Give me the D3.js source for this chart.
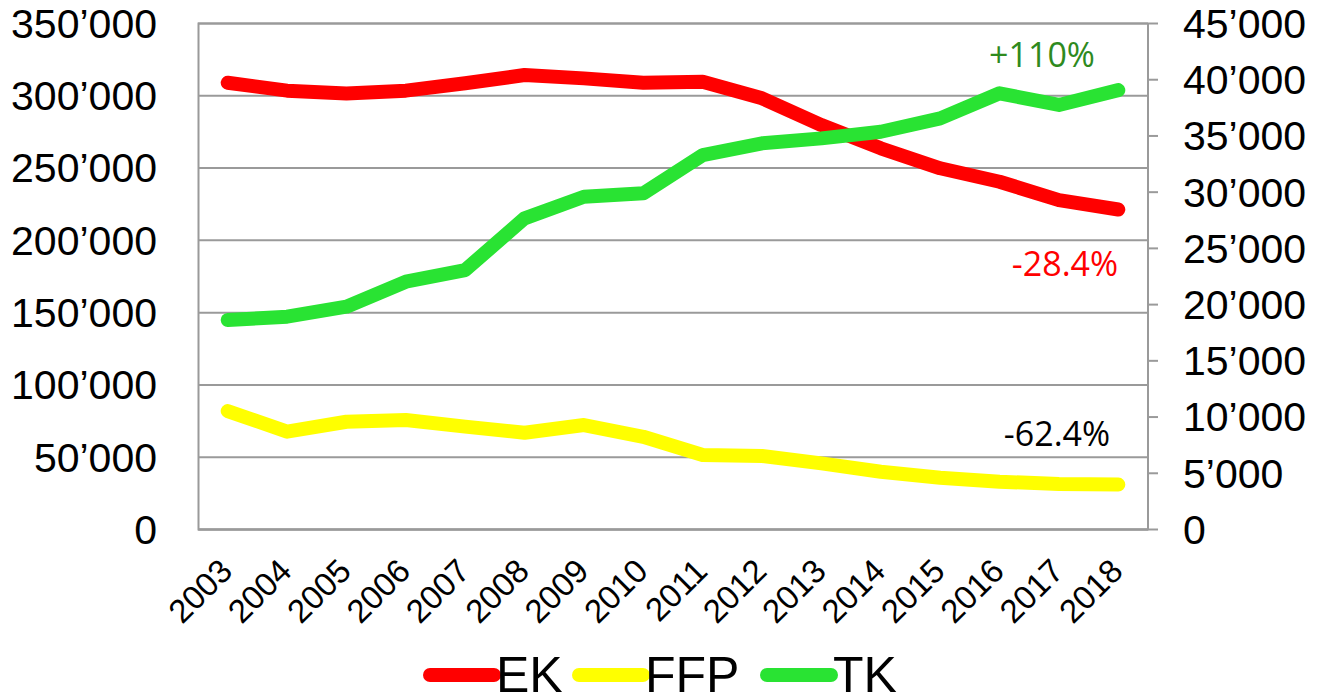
<!DOCTYPE html>
<html>
<head>
<meta charset="utf-8">
<script src="https://cdn.jsdelivr.net/npm/d3@7"></script>
<style>
  body { margin: 0; background: #fff; }
  svg { display: block; }
  .tick text { font-family: "Liberation Sans", Arial, sans-serif; fill: #000; }
</style>
</head>
<body>
<svg id="chart" width="1323" height="694"></svg>
<script>
// data
var years = ["2003","2004","2005","2006","2007","2008","2009","2010","2011","2012","2013","2014","2015","2016","2017","2018"];
var ek  = [308700,303200,301300,303200,308300,314000,311700,308700,309400,297900,279400,263300,249500,240200,227500,221000];
var ffp = [81600,67300,74200,75400,70800,66600,71900,63800,51200,50500,45400,39600,35500,32700,31100,30700];
var tk  = [18590,18880,19770,21990,23030,27630,29550,29850,33260,34300,34740,35330,36520,38750,37710,39030];
var leftTicks  = [0,50000,100000,150000,200000,250000,300000,350000];
var rightTicks = [0,5000,10000,15000,20000,25000,30000,35000,40000,45000];
var seriesNames = ["EK","FFP","TK"];
var seriesColors = ["#ff0000","#ffff00","#29e333"];
var notes = ["-28.4%","-62.4%","+110%"];
var noteColors = ["#ff0000","#000000","#2e8a1e"];

var svg = d3.select("#chart");
var pLeft = 198, pRight = 1148, pTop = 23, pBottom = 529;

var locale = d3.formatLocale({decimal: ".", thousands: "\u2019", grouping: [3], currency: ["", ""]});
var fmt = locale.format(",");

var x = d3.scalePoint().domain(years).range([pLeft, pRight]).padding(0.5);
var yL = d3.scaleLinear().domain([0, 350000]).range([pBottom, pTop]);
var yR = d3.scaleLinear().domain([0, 45000]).range([pBottom, pTop]);

// ==== gridlines + left axis ====
var gL = svg.append("g")
	.attr("transform", "translate(" + pLeft + ",0)")
	.call(d3.axisLeft(yL).tickValues(leftTicks).tickFormat(fmt).tickSize(-(pRight - pLeft)).tickPadding(41));
gL.select(".domain").attr("stroke", "#9a9a9a").attr("stroke-width", 2);
gL.selectAll(".tick line").attr("stroke", "#9a9a9a").attr("stroke-width", 2);
gL.selectAll(".tick text").style("font-size", "41px").attr("dy", "0.35em");

// ==== right axis ====
var gR = svg.append("g")
	.attr("transform", "translate(" + pRight + ",0)")
	.call(d3.axisRight(yR).tickValues(rightTicks).tickFormat(fmt).tickSize(10).tickPadding(25));
gR.select(".domain").attr("stroke", "#9a9a9a").attr("stroke-width", 2).attr("d", "M0," + pTop + "V" + pBottom);
gR.selectAll(".tick line").attr("stroke", "#9a9a9a").attr("stroke-width", 2);
gR.selectAll(".tick text").style("font-size", "41px").attr("dy", "0.35em");

// ==== x axis ====
var gX = svg.append("g")
	.attr("transform", "translate(0," + pBottom + ")")
	.call(d3.axisBottom(x).tickSize(0).tickPadding(0));
gX.select(".domain").attr("stroke", "#9a9a9a").attr("stroke-width", 2);
gX.selectAll(".tick text")
	.style("font-size", "33px")
	.attr("text-anchor", "end")
	.attr("dy", 0)
	.attr("transform", "translate(6,44) rotate(-45)");

// ==== lines ====
var data = [ek, ffp, tk];
var scales = [yL, yL, yR];
data.forEach(function(vals, i) {
	var line = d3.line()
		.x(function(d, j) { return x(years[j]); })
		.y(function(d) { return scales[i](d); });
	svg.append("path")
		.datum(vals)
		.attr("d", line)
		.attr("fill", "none")
		.attr("stroke", seriesColors[i])
		.attr("stroke-width", 14)
		.attr("stroke-linecap", "round")
		.attr("stroke-linejoin", "round");
});

// ==== notes ====
var notePos = [[1065, 276], [1057, 446], [1042, 67]];
notes.forEach(function(t, i) {
	svg.append("text")
		.attr("x", notePos[i][0])
		.attr("y", notePos[i][1])
		.attr("text-anchor", "middle")
		.style("font-family", "'Open Sans', sans-serif")
		.style("font-size", "34px")
		.attr("fill", noteColors[i])
		.text(t);
});

// ==== legend ====
var legX = [430, 579, 767];
seriesNames.forEach(function(n, i) {
	var g = svg.append("g").attr("transform", "translate(" + legX[i] + ",675)");
	g.append("line")
		.attr("x1", 0).attr("x2", 64)
		.attr("stroke", seriesColors[i])
		.attr("stroke-width", 14)
		.attr("stroke-linecap", "round");
	g.append("text")
		.attr("x", 66)
		.attr("y", 17)
		.style("font-family", "'Liberation Sans', Arial, sans-serif")
		.style("font-size", "50px")
		.text(n);
});
</script>
</body>
</html>
